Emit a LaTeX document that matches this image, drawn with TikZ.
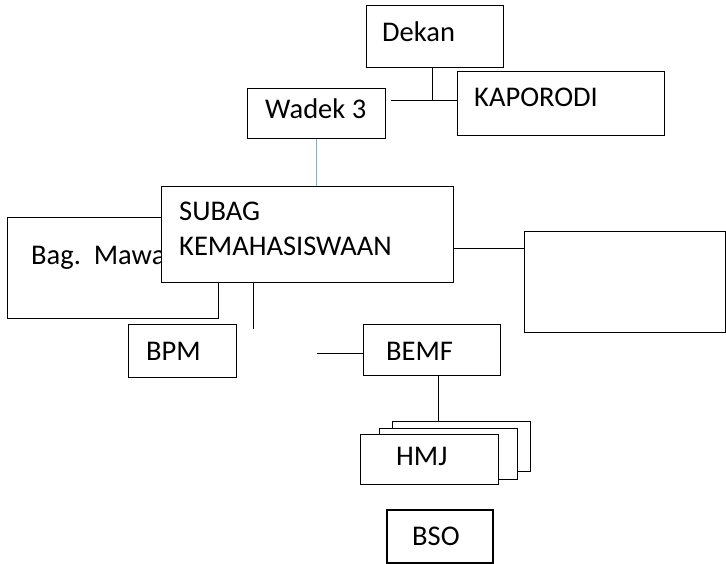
\documentclass[tikz,border=0pt]{standalone}
\usepackage{fontspec}
\setmainfont{Carlito}
\begin{document}
\begin{tikzpicture}[x=1pt,y=-1pt,
  box/.style={draw=black, line width=1pt, fill=white, inner sep=0pt, anchor=north west},
  lbl/.style={inner sep=0pt, anchor=base west, font=\fontsize{28.5}{32}\selectfont},
  conn/.style={draw=black, line width=1pt},
  blueconn/.style={draw={rgb,255:red,125;green,172;blue,225}, line width=1.2pt}]
\useasboundingbox (0,0) rectangle (726,564);
% top level
\node[box, minimum width=137pt, minimum height=62pt] (dekan) at (366,5) {};
\node[lbl] (tdekan) at (382,42) {Dekan};
\node[box, minimum width=207pt, minimum height=64pt] (kap) at (457,71) {};
\node[lbl] (tkap) at (474,107) {KAPORODI};
\node[box, minimum width=138pt, minimum height=50pt] (wadek) at (247,88) {};
\node[lbl] (twadek) at (265,119) {Wadek 3};
\coordinate (j1) at (432,101);
\coordinate (w1) at (391,101);
\draw[conn] (dekan.south -| j1) -- (j1);
\draw[conn] (w1) -- (kap.west |- j1);
% middle level
\node[box, minimum width=211pt, minimum height=101pt] (bag) at (7,217) {};
\node[lbl] (tbag) at (31,265) {Bag.\ \ Mawa};
\node[box, minimum width=201pt, minimum height=101pt] (right) at (524,231) {};
\node[box, minimum width=292pt, minimum height=96pt] (subag) at (161,186) {};
\node[lbl] (tsub1) at (179,221) {SUBAG};
\node[lbl] (tsub2) at (179,256) {KEMAHASISWAAN};
\draw[blueconn] (wadek.south) -- (subag.north -| wadek.south);
\coordinate (r1) at (454,249);
\draw[conn] (subag.east |- r1) -- (right.west |- r1);
\coordinate (s1) at (253,329);
\draw[conn] (subag.south -| s1) -- (s1);
% lower level
\node[box, minimum width=108pt, minimum height=53pt] (bpm) at (128,324) {};
\node[lbl] (tbpm) at (146,360) {BPM};
\node[box, minimum width=137pt, minimum height=51pt] (bemf) at (363,324) {};
\node[lbl] (tbemf) at (386,360) {BEMF};
\coordinate (b1) at (317,353);
\draw[conn] (b1) -- (bemf.west |- b1);
% HMJ stack
\node[box, minimum width=138pt, minimum height=50pt] (hmj3) at (392,421) {};
\node[box, minimum width=138pt, minimum height=51pt] (hmj2) at (379,428) {};
\node[box, minimum width=138pt, minimum height=50pt] (hmj1) at (360,434) {};
\node[lbl] (thmj) at (396,465) {HMJ};
\draw[conn] (bemf.south -| 438,0) -- (hmj3.north -| 438,0);
% BSO
\node[box, line width=2pt, minimum width=106pt, minimum height=53pt] (bso) at (386,509) {};
\node[lbl] (tbso) at (412,545) {BSO};
\end{tikzpicture}
\end{document}
